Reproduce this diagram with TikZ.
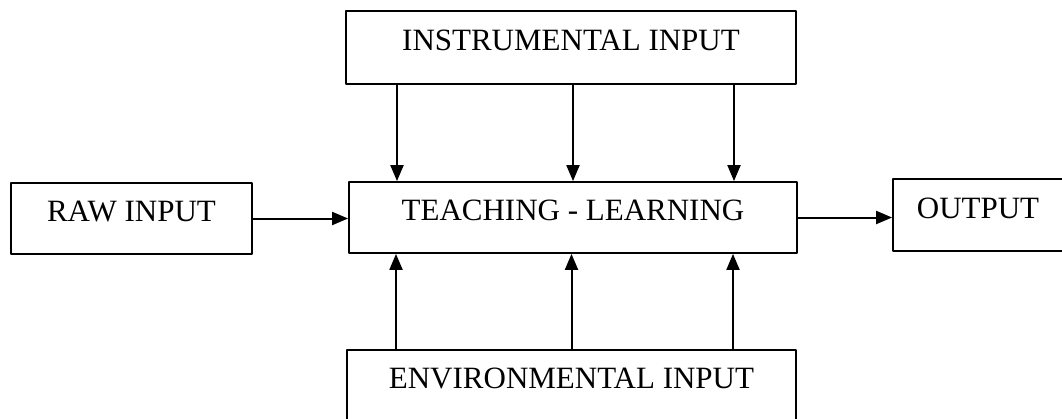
\documentclass[tikz,border=0pt]{standalone}
\usepackage{fontspec}
\setmainfont{Liberation Serif}
\usetikzlibrary{arrows.meta}
\tikzset{
	blk/.style={draw, line width=1.8pt, rectangle, inner sep=0pt, text height=0.66em, text depth=0.06em},
	arr/.style={->, line width=2pt}
}
\begin{document}
\begin{tikzpicture}[x=1pt,y=-1pt,>={Triangle[length=16pt,width=13pt]}, font=\fontsize{31}{36}\selectfont, line join=round]
	\useasboundingbox (0,0) rectangle (1062,418);
	% boxes
	\node[blk, minimum width=450pt, minimum height=73pt] (inst) at (571,47.5) {INSTRUMENTAL INPUT};
	\node[blk, minimum width=241pt, minimum height=71pt] (raw) at (131.5,218.5) {RAW INPUT};
	\node[blk, minimum width=448pt, minimum height=71pt] (teach) at (573,217.5) {TEACHING - LEARNING};
	\node[blk, minimum width=170pt, minimum height=72pt] (out) at (978,215) {OUTPUT};
	\node[blk, minimum width=449pt, minimum height=80pt, text depth=0.92em, anchor=north] (env) at (571.5,349) {ENVIRONMENTAL INPUT};
	% arrows
	\draw[arr] (raw.east) -- (raw.east -| teach.west);
	\draw[arr] (teach.east) -- (teach.east -| out.west);
	\foreach \dx in {-174,2,163}
		\draw[arr] ([xshift=\dx pt]inst.south) -- ([xshift=\dx pt]inst.south |- teach.north);
	\foreach \dx in {-175.5,0,161.5}
		\draw[arr] ([xshift=\dx pt]env.north) -- ([xshift=\dx pt]env.north |- teach.south);
\end{tikzpicture}
\end{document}
